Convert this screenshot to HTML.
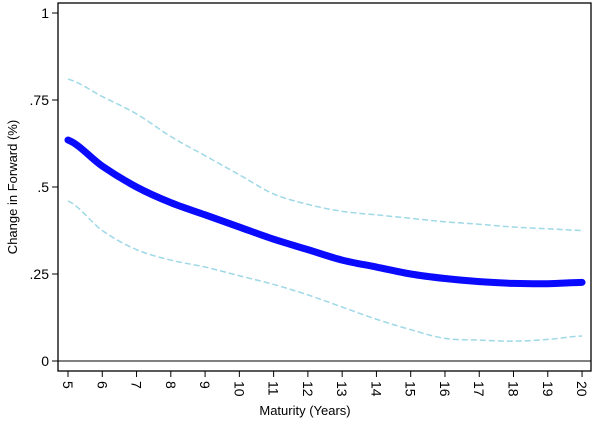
<!DOCTYPE html>
<html><head><meta charset="utf-8"><style>
body{margin:0;background:#fff;}
svg{display:block;font-family:"Liberation Sans",Arial,sans-serif;}
</style></head><body>
<svg id="s" width="600" height="422" viewBox="0 0 600 422">
<rect x="58" y="3" width="533" height="368" fill="none" stroke="#000" stroke-width="1.3"/>
<line x1="58" y1="361" x2="591" y2="361" stroke="#000" stroke-width="1"/>
<g id="g"></g>
<text x="305" y="415" font-size="13" text-anchor="middle">Maturity (Years)</text>
<text transform="translate(17,187) rotate(-90)" font-size="13" text-anchor="middle">Change in Forward (%)</text>
</svg>
<script>
const g=document.getElementById('g');let h='';
const X=m=>68+(m-5)*34.27, Y=v=>361-348*v;
[[1,'1'],[.75,'.75'],[.5,'.5'],[.25,'.25'],[0,'0']].forEach(([v,l])=>{
h+=`<line x1="52" y1="${Y(v)}" x2="58" y2="${Y(v)}" stroke="#000"/><text x="49" y="${Y(v)+5}" font-size="14" text-anchor="end">${l}</text>`;});
for(let m=5;m<=20;m++){const x=X(m);
h+=`<line x1="${x}" y1="371" x2="${x}" y2="377" stroke="#000"/><text transform="translate(${x-5},381) rotate(90)" font-size="14">${m}</text>`;}
const main=[.635,.56,.50,.455,.42,.385,.35,.32,.29,.27,.25,.237,.228,.223,.222,.226];
const up=[.81,.76,.71,.645,.59,.535,.48,.45,.43,.42,.41,.40,.393,.385,.38,.375];
const lo=[.46,.375,.32,.29,.27,.245,.22,.19,.155,.12,.09,.065,.06,.057,.062,.072];
function path(a){let p='';a.forEach((v,i)=>{const x=X(5+i),y=Y(v);if(!i)p=`M${x},${y}`;else{const px=X(4+i),py=Y(a[i-1]);
const p0=i>1?a[i-2]:a[i-1],p3=i<a.length-1?a[i+1]:v;
const c1y=py+(Y(v)-Y(p0))/6,c2y=y-(Y(p3)-py)/6;p+=` C${px+11.42},${c1y} ${x-11.42},${c2y} ${x},${y}`;}});return p;}
h+=`<path d="${path(up)}" fill="none" stroke="#9fd8e6" stroke-width="1.5" stroke-dasharray="6,3"/>`;
h+=`<path d="${path(lo)}" fill="none" stroke="#9fd8e6" stroke-width="1.5" stroke-dasharray="6,3"/>`;
h+=`<path d="${path(main)}" fill="none" stroke="#0a0aff" stroke-width="7" stroke-linecap="round"/>`;
g.innerHTML=h;
</script>
</body></html>
